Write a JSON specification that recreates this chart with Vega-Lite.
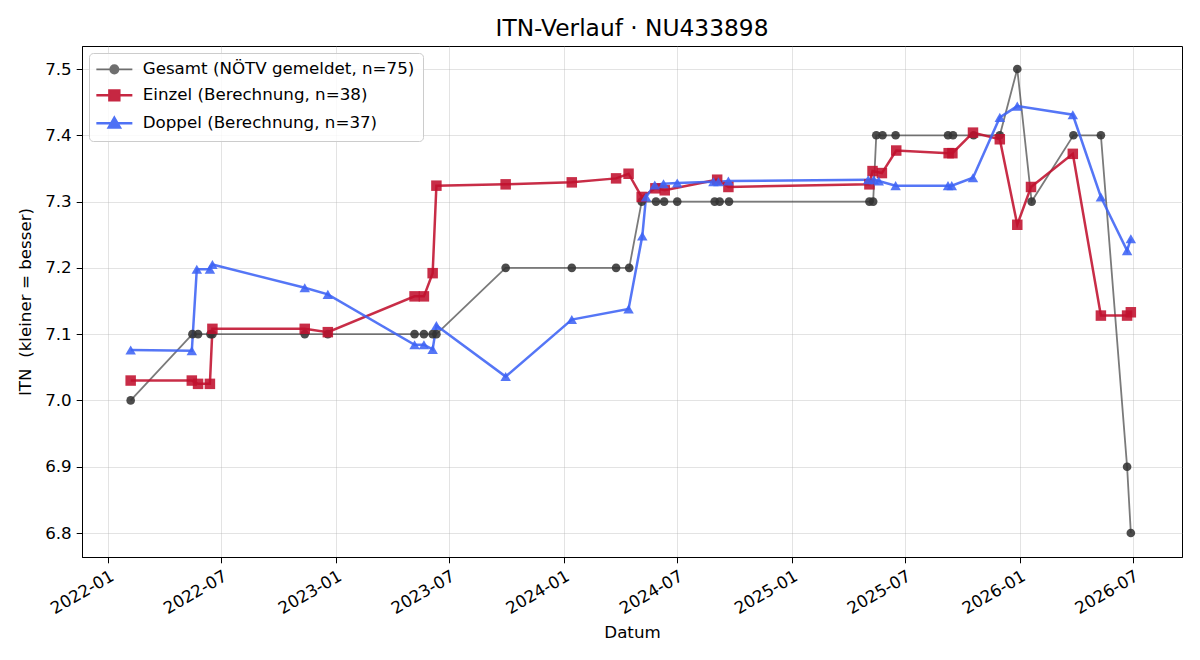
{
  "$schema": "https://vega.github.io/schema/vega-lite/v6.json",
  "autosize": "none",
  "width": 1100,
  "height": 511,
  "padding": {"left": 82, "top": 46, "right": 18, "bottom": 103},
  "background": "white",
  "title": {"text": "ITN-Verlauf · NU433898", "fontSize": 23.3, "fontWeight": "normal", "font": "DejaVu Sans", "color": "black", "offset": 5},
  "config": {
    "font": "DejaVu Sans",
    "view": {"stroke": "black", "strokeWidth": 1},
    "axis": {
      "labelFont": "DejaVu Sans", "labelFontSize": 16.7, "labelColor": "black",
      "titleFont": "DejaVu Sans", "titleFontSize": 16.7, "titleFontWeight": "normal", "titleColor": "black",
      "domainColor": "black", "tickColor": "black", "tickSize": 5.8, "labelPadding": 5,
      "gridColor": "#b0b0b0", "gridOpacity": 0.35, "gridWidth": 1
    },
    "legend": {"labelFont": "DejaVu Sans", "labelFontSize": 16.7, "labelColor": "black", "labelLimit": 500}
  },
  "data": {
    "values": [
      {"series": "Gesamt", "date": "2022-02-06", "itn": 7.0},
      {"series": "Gesamt", "date": "2022-05-16", "itn": 7.1},
      {"series": "Gesamt", "date": "2022-05-25", "itn": 7.1},
      {"series": "Gesamt", "date": "2022-06-14", "itn": 7.1},
      {"series": "Gesamt", "date": "2022-06-17", "itn": 7.1},
      {"series": "Gesamt", "date": "2022-11-12", "itn": 7.1},
      {"series": "Gesamt", "date": "2022-12-19", "itn": 7.1},
      {"series": "Gesamt", "date": "2023-05-07", "itn": 7.1},
      {"series": "Gesamt", "date": "2023-05-22", "itn": 7.1},
      {"series": "Gesamt", "date": "2023-06-05", "itn": 7.1},
      {"series": "Gesamt", "date": "2023-06-11", "itn": 7.1},
      {"series": "Gesamt", "date": "2023-09-30", "itn": 7.2},
      {"series": "Gesamt", "date": "2024-01-14", "itn": 7.2},
      {"series": "Gesamt", "date": "2024-03-25", "itn": 7.2},
      {"series": "Gesamt", "date": "2024-04-15", "itn": 7.2},
      {"series": "Gesamt", "date": "2024-05-05", "itn": 7.3},
      {"series": "Gesamt", "date": "2024-05-28", "itn": 7.3},
      {"series": "Gesamt", "date": "2024-06-10", "itn": 7.3},
      {"series": "Gesamt", "date": "2024-07-01", "itn": 7.3},
      {"series": "Gesamt", "date": "2024-08-30", "itn": 7.3},
      {"series": "Gesamt", "date": "2024-09-07", "itn": 7.3},
      {"series": "Gesamt", "date": "2024-09-22", "itn": 7.3},
      {"series": "Gesamt", "date": "2025-05-05", "itn": 7.3},
      {"series": "Gesamt", "date": "2025-05-11", "itn": 7.3},
      {"series": "Gesamt", "date": "2025-05-16", "itn": 7.4},
      {"series": "Gesamt", "date": "2025-05-26", "itn": 7.4},
      {"series": "Gesamt", "date": "2025-06-16", "itn": 7.4},
      {"series": "Gesamt", "date": "2025-09-08", "itn": 7.4},
      {"series": "Gesamt", "date": "2025-09-16", "itn": 7.4},
      {"series": "Gesamt", "date": "2025-10-19", "itn": 7.4},
      {"series": "Gesamt", "date": "2025-11-30", "itn": 7.4},
      {"series": "Gesamt", "date": "2025-12-28", "itn": 7.5},
      {"series": "Gesamt", "date": "2026-01-20", "itn": 7.3},
      {"series": "Gesamt", "date": "2026-03-28", "itn": 7.4},
      {"series": "Gesamt", "date": "2026-05-11", "itn": 7.4},
      {"series": "Gesamt", "date": "2026-06-22", "itn": 6.9},
      {"series": "Gesamt", "date": "2026-06-28", "itn": 6.8},

      {"series": "Einzel", "date": "2022-02-06", "itn": 7.030},
      {"series": "Einzel", "date": "2022-05-15", "itn": 7.030},
      {"series": "Einzel", "date": "2022-05-25", "itn": 7.025},
      {"series": "Einzel", "date": "2022-06-13", "itn": 7.025},
      {"series": "Einzel", "date": "2022-06-17", "itn": 7.108},
      {"series": "Einzel", "date": "2022-11-12", "itn": 7.108},
      {"series": "Einzel", "date": "2022-12-19", "itn": 7.103},
      {"series": "Einzel", "date": "2023-05-07", "itn": 7.157},
      {"series": "Einzel", "date": "2023-05-22", "itn": 7.157},
      {"series": "Einzel", "date": "2023-06-05", "itn": 7.192},
      {"series": "Einzel", "date": "2023-06-11", "itn": 7.324},
      {"series": "Einzel", "date": "2023-09-30", "itn": 7.326},
      {"series": "Einzel", "date": "2024-01-14", "itn": 7.329},
      {"series": "Einzel", "date": "2024-03-25", "itn": 7.335},
      {"series": "Einzel", "date": "2024-04-14", "itn": 7.342},
      {"series": "Einzel", "date": "2024-05-05", "itn": 7.307},
      {"series": "Einzel", "date": "2024-05-27", "itn": 7.320},
      {"series": "Einzel", "date": "2024-06-11", "itn": 7.317},
      {"series": "Einzel", "date": "2024-09-03", "itn": 7.333},
      {"series": "Einzel", "date": "2024-09-21", "itn": 7.322},
      {"series": "Einzel", "date": "2025-05-05", "itn": 7.326},
      {"series": "Einzel", "date": "2025-05-10", "itn": 7.346},
      {"series": "Einzel", "date": "2025-05-25", "itn": 7.343},
      {"series": "Einzel", "date": "2025-06-17", "itn": 7.377},
      {"series": "Einzel", "date": "2025-09-09", "itn": 7.373},
      {"series": "Einzel", "date": "2025-09-15", "itn": 7.373},
      {"series": "Einzel", "date": "2025-10-18", "itn": 7.404},
      {"series": "Einzel", "date": "2025-11-30", "itn": 7.394},
      {"series": "Einzel", "date": "2025-12-28", "itn": 7.265},
      {"series": "Einzel", "date": "2026-01-19", "itn": 7.322},
      {"series": "Einzel", "date": "2026-03-27", "itn": 7.372},
      {"series": "Einzel", "date": "2026-05-11", "itn": 7.128},
      {"series": "Einzel", "date": "2026-06-22", "itn": 7.128},
      {"series": "Einzel", "date": "2026-06-28", "itn": 7.133},

      {"series": "Doppel", "date": "2022-02-06", "itn": 7.076},
      {"series": "Doppel", "date": "2022-05-15", "itn": 7.075},
      {"series": "Doppel", "date": "2022-05-23", "itn": 7.198},
      {"series": "Doppel", "date": "2022-06-13", "itn": 7.198},
      {"series": "Doppel", "date": "2022-06-17", "itn": 7.205},
      {"series": "Doppel", "date": "2022-11-12", "itn": 7.170},
      {"series": "Doppel", "date": "2022-12-19", "itn": 7.160},
      {"series": "Doppel", "date": "2023-05-07", "itn": 7.084},
      {"series": "Doppel", "date": "2023-05-22", "itn": 7.084},
      {"series": "Doppel", "date": "2023-06-05", "itn": 7.077},
      {"series": "Doppel", "date": "2023-06-11", "itn": 7.113},
      {"series": "Doppel", "date": "2023-09-30", "itn": 7.036},
      {"series": "Doppel", "date": "2024-01-14", "itn": 7.122},
      {"series": "Doppel", "date": "2024-04-14", "itn": 7.138},
      {"series": "Doppel", "date": "2024-05-06", "itn": 7.248},
      {"series": "Doppel", "date": "2024-05-12", "itn": 7.307},
      {"series": "Doppel", "date": "2024-05-26", "itn": 7.325},
      {"series": "Doppel", "date": "2024-06-09", "itn": 7.327},
      {"series": "Doppel", "date": "2024-07-01", "itn": 7.328},
      {"series": "Doppel", "date": "2024-08-28", "itn": 7.330},
      {"series": "Doppel", "date": "2024-09-05", "itn": 7.330},
      {"series": "Doppel", "date": "2024-09-21", "itn": 7.331},
      {"series": "Doppel", "date": "2025-05-03", "itn": 7.333},
      {"series": "Doppel", "date": "2025-05-12", "itn": 7.333},
      {"series": "Doppel", "date": "2025-05-20", "itn": 7.331},
      {"series": "Doppel", "date": "2025-06-16", "itn": 7.324},
      {"series": "Doppel", "date": "2025-09-08", "itn": 7.324},
      {"series": "Doppel", "date": "2025-09-14", "itn": 7.324},
      {"series": "Doppel", "date": "2025-10-18", "itn": 7.336},
      {"series": "Doppel", "date": "2025-11-30", "itn": 7.427},
      {"series": "Doppel", "date": "2025-12-28", "itn": 7.444},
      {"series": "Doppel", "date": "2026-03-27", "itn": 7.431},
      {"series": "Doppel", "date": "2026-05-11", "itn": 7.307},
      {"series": "Doppel", "date": "2026-06-22", "itn": 7.226},
      {"series": "Doppel", "date": "2026-06-28", "itn": 7.244}
    ]
  },
  "encoding": {
    "x": {
      "field": "date", "type": "temporal", "title": "Datum",
      "scale": {"type": "utc", "domain": [{"year": 2021, "month": 11, "date": 20, "utc": true}, {"year": 2026, "month": 9, "date": 18, "utc": true}]},
      "axis": {"labelExpr": "utcFormat(datum.value, '%Y-%m')", "tickCount": {"interval": "month", "step": 6}, "labelAngle": -30, "labelAlign": "right", "labelBaseline": "top", "titlePadding": 7, "labelFlush": false, "labelOverlap": false}
    },
    "y": {
      "field": "itn", "type": "quantitative", "title": "ITN\u00a0 (kleiner = besser)",
      "scale": {"domain": [6.7638, 7.5347], "zero": false, "nice": false},
      "axis": {"values": [6.8, 6.9, 7.0, 7.1, 7.2, 7.3, 7.4, 7.5], "format": ".1f", "titlePadding": 10}
    },
    "color": {
      "field": "series", "type": "nominal",
      "scale": {"domain": ["Gesamt", "Einzel", "Doppel"], "range": ["#333333", "#c0102e", "#3d63f5"]},
      "legend": {
        "title": null, "orient": "top-left", "offset": 7,
        "labelExpr": "datum.label == 'Gesamt' ? 'Gesamt (NÖTV gemeldet, n=75)' : datum.label == 'Einzel' ? 'Einzel (Berechnung, n=38)' : 'Doppel (Berechnung, n=37)'",
        "symbolSize": 324, "labelOffset": 29, "rowPadding": 6, "padding": 8,
        "fillColor": "rgba(255,255,255,0.8)", "strokeColor": "#cccccc", "cornerRadius": 4,
        "encode": {
          "symbols": {
            "update": {
              "shape": {"signal": "datum.value == 'Gesamt' ? 'M-1,0H3M1.46,0A0.46,0.46,0,1,1,0.54,0A0.46,0.46,0,1,1,1.46,0Z' : datum.value == 'Einzel' ? 'M-1,0H3M0.45,-0.55H1.55V0.55H0.45Z' : 'M-1,0H3M1,-0.62L1.62,0.45L0.38,0.45Z'"},
              "size": {"value": 324},
              "fill": {"scale": "color", "field": "value"},
              "stroke": {"scale": "color", "field": "value"},
              "strokeWidth": {"signal": "datum.value == 'Gesamt' ? 1.8 : 2.5"},
              "opacity": {"signal": "datum.value == 'Gesamt' ? 0.7 : 0.9"}
            }
          }
        }
      }
    }
  },
  "layer": [
    {
      "mark": {"type": "line", "interpolate": "linear"},
      "encoding": {
        "strokeWidth": {"condition": {"test": "datum.series == 'Gesamt'", "value": 1.8}, "value": 2.5},
        "strokeOpacity": {"condition": {"test": "datum.series == 'Gesamt'", "value": 0.65}, "value": 0.88}
      }
    },
    {
      "mark": {"type": "point", "filled": true},
      "encoding": {
        "shape": {"condition": [{"test": "datum.series == 'Gesamt'", "value": "circle"}, {"test": "datum.series == 'Einzel'", "value": "square"}], "value": "triangle-up"},
        "size": {"condition": {"test": "datum.series == 'Gesamt'", "value": 75}, "value": 110},
        "opacity": {"value": 0.88}
      }
    }
  ]
}
